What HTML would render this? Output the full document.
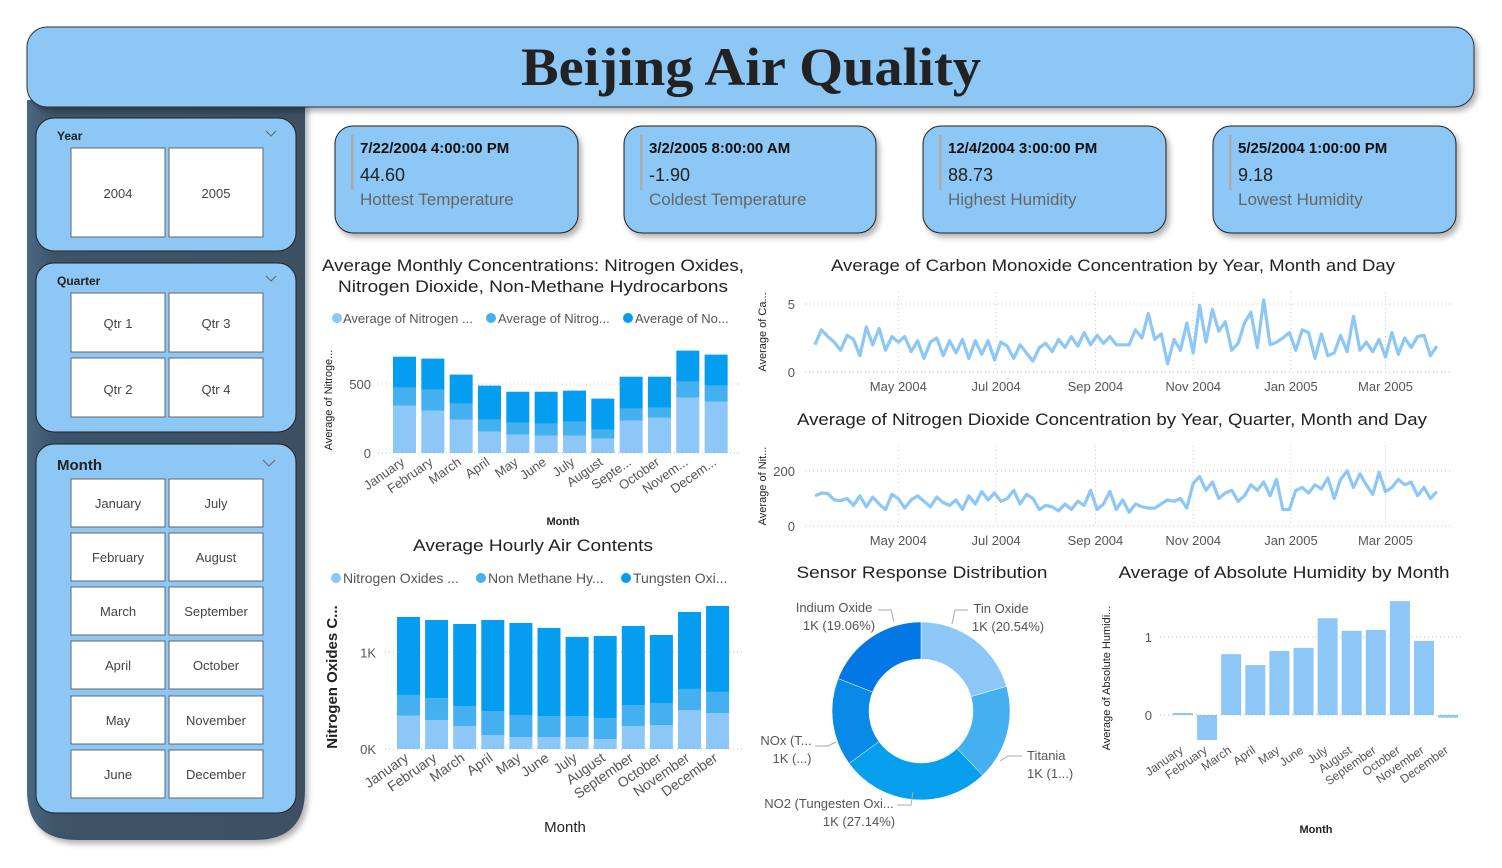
<!DOCTYPE html>
<html><head><meta charset="utf-8"><style>
html,body{margin:0;padding:0;background:#fff;}
svg{display:block;font-family:"Liberation Sans",sans-serif;}
</style></head><body>
<svg id="root" width="1502" height="868" viewBox="0 0 1502 868" xmlns="http://www.w3.org/2000/svg">
<defs>
<filter id="sh" x="-10%" y="-10%" width="130%" height="140%"><feDropShadow dx="3" dy="4" stdDeviation="3" flood-color="#000" flood-opacity="0.3"/></filter>
<linearGradient id="sideg" x1="0" x2="1"><stop offset="0" stop-color="#4a6782"/><stop offset="0.1" stop-color="#3e5468"/><stop offset="1" stop-color="#3c5064"/></linearGradient>
</defs>
<path d="M27 100 H305 V790 Q305 840 255 840 H77 Q27 840 27 790 Z" fill="url(#sideg)" filter="url(#sh)"/>
<g>
<rect x="27" y="27" width="1447" height="80" rx="20" fill="#8cc7f5" stroke="#333" stroke-width="1" filter="url(#sh)"/>
<text x="751" y="85" text-anchor="middle" font-family="Liberation Serif,serif" font-weight="bold" font-size="54" fill="#222" textLength="460" lengthAdjust="spacingAndGlyphs">Beijing Air Quality</text>
</g>
<g>
<rect x="36" y="118" width="260" height="133" rx="18" fill="#8cc7f5" stroke="#222"/>
<text x="57" y="140" font-size="12" fill="#222" font-weight="bold">Year</text>
<path d="M266 131 l5 5 l5 -5" fill="none" stroke="#666"/>
<g><rect x="71" y="148" width="94" height="89" fill="#fff" stroke="#666"/><text x="118" y="198" text-anchor="middle" font-size="13" fill="#444">2004</text></g>
<g><rect x="169" y="148" width="94" height="89" fill="#fff" stroke="#666"/><text x="216" y="198" text-anchor="middle" font-size="13" fill="#444">2005</text></g>
</g>
<g>
<rect x="36" y="263" width="260" height="169" rx="18" fill="#8cc7f5" stroke="#222"/>
<text x="57" y="285" font-size="12" fill="#222" font-weight="bold">Quarter</text>
<path d="M266 276 l5 5 l5 -5" fill="none" stroke="#666"/>
<g><rect x="71" y="293" width="94" height="59" fill="#fff" stroke="#666"/><text x="118" y="328" text-anchor="middle" font-size="13" fill="#444">Qtr 1</text></g>
<g><rect x="169" y="293" width="94" height="59" fill="#fff" stroke="#666"/><text x="216" y="328" text-anchor="middle" font-size="13" fill="#444">Qtr 3</text></g>
<g><rect x="71" y="358" width="94" height="59" fill="#fff" stroke="#666"/><text x="118" y="394" text-anchor="middle" font-size="13" fill="#444">Qtr 2</text></g>
<g><rect x="169" y="358" width="94" height="59" fill="#fff" stroke="#666"/><text x="216" y="394" text-anchor="middle" font-size="13" fill="#444">Qtr 4</text></g>
</g>
<g id="monthSlicer">
<rect x="36" y="444" width="260" height="369" rx="18" fill="#8cc7f5" stroke="#222"/>
<text x="57" y="470" font-size="15" fill="#222" font-weight="bold">Month</text>
<path d="M263 460 l6 6 l6 -6" fill="none" stroke="#666"/>
</g>
<g id="kpis"></g>
<g font-size="17" fill="#222">
<text x="533" y="271" text-anchor="middle" textLength="422" lengthAdjust="spacingAndGlyphs">Average Monthly Concentrations: Nitrogen Oxides,</text>
<text x="533" y="292" text-anchor="middle" textLength="390" lengthAdjust="spacingAndGlyphs">Nitrogen Dioxide, Non-Methane Hydrocarbons</text>
<text x="533" y="551" text-anchor="middle" textLength="240" lengthAdjust="spacingAndGlyphs">Average Hourly Air Contents</text>
<text x="1113" y="271" text-anchor="middle" textLength="564" lengthAdjust="spacingAndGlyphs">Average of Carbon Monoxide Concentration by Year, Month and Day</text>
<text x="1112" y="425" text-anchor="middle" textLength="630" lengthAdjust="spacingAndGlyphs">Average of Nitrogen Dioxide Concentration by Year, Quarter, Month and Day</text>
<text x="922" y="578" text-anchor="middle" textLength="251" lengthAdjust="spacingAndGlyphs">Sensor Response Distribution</text>
<text x="1284" y="578" text-anchor="middle" textLength="331" lengthAdjust="spacingAndGlyphs">Average of Absolute Humidity by Month</text>
</g>
<g font-size="13" fill="#555">
<circle cx="337" cy="318" r="5" fill="#8cc7f7"/><text x="343" y="323">Average of Nitrogen ...</text>
<circle cx="491" cy="318" r="5" fill="#45b0f0"/><text x="498" y="323">Average of Nitrog...</text>
<circle cx="628" cy="318" r="5" fill="#049def"/><text x="635" y="323">Average of No...</text>
</g>
<g font-size="14" fill="#555">
<circle cx="336" cy="578" r="5" fill="#8cc7f7"/><text x="343" y="583">Nitrogen Oxides ...</text>
<circle cx="481" cy="578" r="5" fill="#45b0f0"/><text x="488" y="583">Non Methane Hy...</text>
<circle cx="626" cy="578" r="5" fill="#049def"/><text x="633" y="583">Tungsten Oxi...</text>
</g>
<g id="charts"></g>
<g font-size="13" fill="#555">
<text x="834" y="612" text-anchor="middle">Indium Oxide</text><text x="839" y="630" text-anchor="middle">1K (19.06%)</text>
<polyline points="878,610 891,610 894,622" fill="none" stroke="#aaa"/>
<text x="1001" y="613" text-anchor="middle">Tin Oxide</text><text x="1008" y="631" text-anchor="middle">1K (20.54%)</text>
<polyline points="968,610 955,610 952,624" fill="none" stroke="#aaa"/>
<text x="1027" y="760">Titania</text><text x="1027" y="778">1K (1...)</text>
<polyline points="1022,756 1008,756 1000,761" fill="none" stroke="#aaa"/>
<text x="786" y="745" text-anchor="middle">NOx (T...</text><text x="792" y="763" text-anchor="middle">1K (...)</text>
<polyline points="815,746 828,746 836,742" fill="none" stroke="#aaa"/>
<text x="829" y="808" text-anchor="middle">NO2 (Tungesten Oxi...</text><text x="859" y="826" text-anchor="middle">1K (27.14%)</text>
<polyline points="897,805 911,805 913,792" fill="none" stroke="#aaa"/>
</g>
</svg>
<script>
var months = ["January","February","March","April","May","June","July","August","September","October","November","December"];
var monthsShort = ["January","February","March","April","May","June","July","August","Septe...","October","Novem...","Decem..."];
var monthlyNOx = [343,307,242,155,133,126,126,104,234,256,401,372];
var monthlyNO2 = [130,152,115,87,87,87,101,65,87,73,116,116];
var monthlyNMHC = [225,225,211,246,224,231,225,225,232,224,225,225];
var monthlyTicks = [0,500];
var hourlyNOx = [345,300,238,145,124,124,124,103,238,248,403,372];
var hourlyNMHC = [214,228,207,248,228,217,217,218,217,228,218,218];
var hourlyWO = [807,806,848,941,951,911,818,848,817,703,796,889];
var hourlyTicks = [0,1000];
var hourlyTickLabels = ["0K","1K"];
var humidity = [0.026,-0.32,0.78,0.64,0.82,0.86,1.24,1.08,1.09,1.46,0.95,-0.034];
var humidityTicks = [0,1];
var donutLabels = ["Tin Oxide","Titania","NO2 (Tungesten Oxide)","NOx (Tungsten Oxide)","Indium Oxide"];
var donutValues = [20.54,17.30,27.14,15.96,19.06];
var seriesStart = "2004-03-10";
var seriesStepDays = 4;
var coValues = [2.0,3.1,2.6,2.2,1.6,2.7,2.4,1.2,3.3,2.0,3.2,1.6,2.6,
2.2,2.6,1.5,2.3,1.0,2.2,2.5,1.2,2.3,1.4,2.4,1.0,2.3,1.3,2.3,
0.9,2.2,1.9,1.0,2.0,1.4,0.8,1.8,2.1,1.5,2.4,1.8,2.6,1.9,2.9,
2.0,2.7,2.1,2.6,2.0,2.0,2.0,3.1,2.5,4.3,2.4,2.8,0.6,2.4,1.6,
3.6,1.4,4.9,2.2,4.6,3.0,3.7,1.6,2.1,3.6,4.4,1.8,5.3,2.0,2.2,
2.5,2.9,1.6,3.1,2.9,1.0,2.8,1.2,1.4,2.7,1.5,4.1,1.6,2.2,1.5,
2.4,1.1,2.9,1.3,2.5,1.8,2.6,2.7,1.2,1.9];
var no2Values = [110,120,118,95,92,100,75,110,70,105,80,60,115,
100,65,95,110,90,70,105,85,75,95,60,110,80,125,95,
120,90,100,130,80,115,100,60,75,70,55,80,60,90,75,
130,60,80,125,60,95,50,80,70,65,65,80,95,90,100,
65,155,180,130,160,100,120,130,90,110,150,130,160,110,170,
60,60,130,140,120,150,135,175,100,170,200,140,190,150,115,
195,125,140,170,150,160,110,140,100,125];
var coTicks = [0,5];
var no2Ticks = [0,200];
var dateTicks = ["2004-05-01","2004-07-01","2004-09-01","2004-11-01","2005-01-01","2005-03-01"];
var dateTickLabels = ["May 2004","Jul 2004","Sep 2004","Nov 2004","Jan 2005","Mar 2005"];
var kpiDates = ["7/22/2004 4:00:00 PM","3/2/2005 8:00:00 AM","12/4/2004 3:00:00 PM","5/25/2004 1:00:00 PM"];
var kpiValues = ["44.60","-1.90","88.73","9.18"];
var kpiLabels = ["Hottest Temperature","Coldest Temperature","Highest Humidity","Lowest Humidity"];
var slicerMonthsLeft = ["January","February","March","April","May","June"];
var slicerMonthsRight = ["July","August","September","October","November","December"];

var NS = "http://www.w3.org/2000/svg";
function mk(tag, attrs, parent, txt){var e=document.createElementNS(NS,tag);for(var k in attrs)e.setAttribute(k,attrs[k]);if(txt!==undefined)e.textContent=txt;(parent||document.getElementById('charts')).appendChild(e);return e;}

var ms=document.getElementById('monthSlicer');
var rowsY=[479,533,587,641,696,750];
for(var i=0;i<6;i++){
 [[71,slicerMonthsLeft[i]],[169,slicerMonthsRight[i]]].forEach(function(p){
  var g=mk('g',{},ms);
  
  
  mk('rect',{x:p[0],y:rowsY[i],width:94,height:48,fill:'#fff',stroke:'#666'},g);
  mk('text',{x:p[0]+47,y:rowsY[i]+29,'text-anchor':'middle','font-size':13,fill:'#444'},g,p[1]);
 });
}
var kp=document.getElementById('kpis');
var kx=[335,624,923,1213], kw=[243,252,243,243];
for(var i=0;i<4;i++){
 var g=mk('g',{},kp);
 
 
 mk('rect',{x:kx[i],y:126,width:kw[i],height:107,rx:18,fill:'#8cc7f5',stroke:'#222',filter:'url(#sh)'},g);
 mk('rect',{x:kx[i]+16,y:135,width:2.5,height:55,fill:'#aaa'},g);
 mk('text',{x:kx[i]+25,y:153,'font-size':15,'font-weight':'bold',fill:'#111'},g,kpiDates[i]);
 mk('text',{x:kx[i]+25,y:181,'font-size':18,fill:'#222'},g,kpiValues[i]);
 mk('text',{x:kx[i]+25,y:205,'font-size':17,fill:'#666'},g,kpiLabels[i]);
}

function grid(x1,x2,y){mk('line',{x1:x1,x2:x2,y1:y,y2:y,stroke:'#bbb','stroke-dasharray':'1,3'});}
function rotLabels(labels,xs,y,fs,name){
 labels.forEach(function(l,i){
  var ax=xs[i]+1;
  var t=mk('text',{x:ax,y:y,'text-anchor':'end','font-size':fs,fill:'#555',transform:'rotate(-35 '+ax+' '+y+')'},undefined,l);
  
  
 });
}
function stacked(opts){
 var yS=function(v){return opts.y0+(opts.y1-opts.y0)*v/opts.d1;};
 opts.ticks.forEach(function(t,i){grid(opts.gx1,opts.gx2,yS(t));var tx=mk('text',{x:opts.lx,y:yS(t)+5,'text-anchor':'end','font-size':13,fill:'#555'},undefined,opts.tickLabels?opts.tickLabels[i]:String(t));});
 var xs=[];
 for(var i=0;i<12;i++){
  var x=opts.left+i*opts.pitch; xs.push(x+opts.bw/2); var base=0;
  opts.series.forEach(function(s,si){
   var v=s[i];
   var r=mk('rect',{x:x,y:yS(base+v),width:opts.bw,height:yS(base)-yS(base+v),fill:opts.colors[si]});
   
   
   base+=v;
  });
 }
 rotLabels(opts.labels,xs,opts.ly,opts.lfs,opts.name);
}
var cols=['#8cc7f7','#45b0f0','#049def'];
stacked({name:'monthly',y0:453,y1:384,d1:500,ticks:monthlyTicks,gx1:378,gx2:742,lx:371,left:393,pitch:28.33,bw:23,series:[monthlyNOx,monthlyNO2,monthlyNMHC],colors:cols,labels:monthsShort,ly:464,lfs:13});
stacked({name:'hourly',y0:749,y1:652.3,d1:1000,ticks:hourlyTicks,tickLabels:hourlyTickLabels,gx1:385,gx2:743,lx:376,left:397,pitch:28.1,bw:23,series:[hourlyNOx,hourlyNMHC,hourlyWO],colors:cols,labels:months,ly:760,lfs:14});

function vt(x,y,txt,fs,bold,name){var t=mk('text',{x:x,y:y,'text-anchor':'middle','font-size':fs,fill:'#222','font-weight':bold?'bold':'normal',transform:'rotate(-90 '+x+' '+y+')'},undefined,txt);}
vt(332,400,'Average of Nitroge...',11,false,'monthly-y-axis-title');
vt(337,677,'Nitrogen Oxides C...',15,true,'hourly-y-axis-title');
vt(766,332,'Average of Ca...',11,false,'co-y-axis-title');
vt(766,486,'Average of Nit...',11,false,'no2-y-axis-title');
vt(1110,678,'Average of Absolute Humidi...',11,false,'humidity-y-axis-title');
var t1=mk('text',{x:563,y:525,'text-anchor':'middle','font-size':11,'font-weight':'bold',fill:'#222'},undefined,'Month');


var t2=mk('text',{x:565,y:832,'text-anchor':'middle','font-size':15,fill:'#222'},undefined,'Month');


var t3=mk('text',{x:1316,y:833,'text-anchor':'middle','font-size':11,'font-weight':'bold',fill:'#222'},undefined,'Month');



var startMs=Date.parse(seriesStart+"T00:00:00Z"), endMs=Date.parse("2005-04-04T00:00:00Z");
function xT(ms){return 815+(ms-startMs)/(endMs-startMs)*(1440-815);}
function lineChart(vals,ticks,y0,y1,name,labelY,gtop){
 var yS=function(v){return y0+(y1-y0)*v/ticks[1];};
 ticks.forEach(function(t){grid(805,1452,yS(t));var tx=mk('text',{x:795,y:yS(t)+5,'text-anchor':'end','font-size':13,fill:'#555'},undefined,String(t));});
 dateTicks.forEach(function(d,i){var x=xT(Date.parse(d+"T00:00:00Z"));mk('line',{x1:x,x2:x,y1:gtop,y2:y0,stroke:'#ccc','stroke-dasharray':'1,3'});var tx=mk('text',{x:x,y:labelY,'text-anchor':'middle','font-size':13,fill:'#555'},undefined,dateTickLabels[i]);});
 var pts=vals.map(function(v,i){return xT(startMs+i*seriesStepDays*86400000).toFixed(1)+','+yS(v).toFixed(1);}).join(' ');
 var p=mk('polyline',{points:pts,fill:'none',stroke:'#8cc7f7','stroke-width':3.2,'stroke-linejoin':'round'});
 
 
}
lineChart(coValues,coTicks,372,304,'co',391,292);
lineChart(no2Values,no2Ticks,526,471,'no2',545,446);

(function(){
 var y0=715,y1=637; var yS=function(v){return y0+(y1-y0)*v;};
 humidityTicks.forEach(function(t){grid(1160,1462,yS(t));var tx=mk('text',{x:1152,y:yS(t)+5,'text-anchor':'end','font-size':13,fill:'#555'},undefined,String(t));});
 var xs=[];
 humidity.forEach(function(v,i){var x=1173+i*24.1;xs.push(x+10);var top=Math.min(yS(v),y0),h=Math.abs(yS(v)-y0);
  var r=mk('rect',{x:x,y:top,width:20,height:Math.max(h,1.5),fill:'#8cc7f7'});
  
  });
 rotLabels(months,xs,752,12,'humidity');
})();

(function(){
 var cx=921,cy=711,R=89,r=52,cs=['#8cc7f7','#45b0f0','#069fee','#0a8ae8','#0277e6'];
 var tot=donutValues.reduce(function(a,b){return a+b;},0),a=0;
 donutValues.forEach(function(v,i){
  var a0=a/tot*2*Math.PI,a1=(a+v)/tot*2*Math.PI;a+=v;
  function P(rad,ang){return [cx+rad*Math.sin(ang),cy-rad*Math.cos(ang)];}
  var p1=P(R,a0),p2=P(R,a1),p3=P(r,a1),p4=P(r,a0),lg=(a1-a0)>Math.PI?1:0;
  var d='M'+p1+' A'+R+' '+R+' 0 '+lg+' 1 '+p2+' L'+p3+' A'+r+' '+r+' 0 '+lg+' 0 '+p4+' Z';
  var s=mk('path',{d:d,fill:cs[i],stroke:'#fff','stroke-width':0.5});
  
  
 });
})();
</script>
</body></html>
